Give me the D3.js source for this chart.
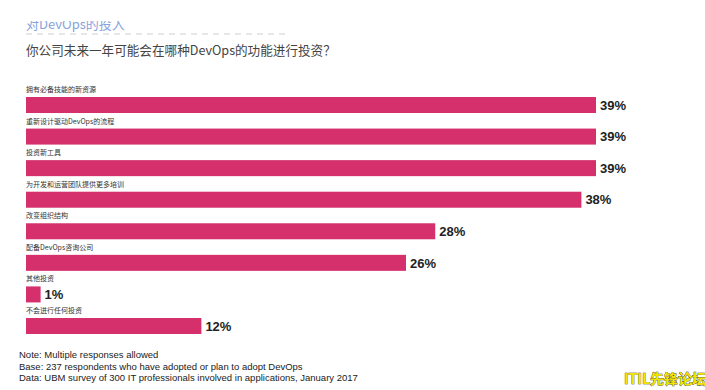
<!DOCTYPE html>
<html>
<head>
<meta charset="utf-8">
<script src="https://cdn.jsdelivr.net/npm/d3@7"></script>
<style>
  body { margin: 0; background: #fff; }
  svg { display: block; }
</style>
</head>
<body>
<div id="chart"></div>
<script>
// data
const categories = [
  "拥有必备技能的新资源",
  "重新设计驱动DevOps的流程",
  "投资新工具",
  "为开发和运营团队提供更多培训",
  "改变组织结构",
  "配备DevOps咨询公司",
  "其他投资",
  "不会进行任何投资"
];
const values = [39, 39, 39, 38, 28, 26, 1, 12];
const notes = [
  "Note: Multiple responses allowed",
  "Base: 237 respondents who have adopted or plan to adopt DevOps",
  "Data: UBM survey of 300 IT professionals involved in applications, January 2017"
];

const W = 705, H = 390;
const cjk = "'Noto Sans CJK SC', 'Noto Sans', sans-serif";
const arial = "'Liberation Sans', Arial, sans-serif";

const svg = d3.select("#chart").append("svg")
    .attr("width", W)
    .attr("height", H);

// blue section header, top clipped off
svg.append("text")
    .attr("x", 26).attr("y", 29)
    .attr("font-family", cjk).attr("font-size", 13)
    .attr("fill", "#86a3db")
    .text("对DevOps的投入");
svg.append("rect").attr("x", 0).attr("y", 0).attr("width", W).attr("height", 21).attr("fill", "#fff");
svg.append("line")
    .attr("x1", 26).attr("x2", 286).attr("y1", 34).attr("y2", 34)
    .attr("stroke", "#cfcfcf").attr("stroke-width", 1.2)
    .attr("stroke-dasharray", "6,5");

svg.append("text")
    .attr("x", 26).attr("y", 55)
    .attr("font-family", cjk).attr("font-size", 12.6)
    .attr("fill", "#444")
    .text("你公司未来一年可能会在哪种DevOps的功能进行投资？");

var x = d3.scaleLinear()
    .domain([0, 39])
    .range([26, 596]);

var y = d3.scaleBand()
    .domain(categories)
    .range([97, 334])
    .paddingInner(0.493)
    .paddingOuter(0);

var rows = svg.append("g").selectAll("g")
    .data(categories.map((c, i) => ({cat: c, val: values[i]})))
    .join("g");

rows.append("rect")
    .attr("x", x(0))
    .attr("y", d => y(d.cat))
    .attr("width", d => x(d.val) - x(0))
    .attr("height", y.bandwidth())
    .attr("fill", "#d5306b");

rows.append("text")
    .attr("x", x(0))
    .attr("y", d => y(d.cat) - 5)
    .attr("font-family", cjk).attr("font-size", 7)
    .attr("fill", "#333")
    .text(d => d.cat);

rows.append("text")
    .attr("x", d => x(d.val) + 4)
    .attr("y", d => y(d.cat) + y.bandwidth() / 2)
    .attr("dy", "0.36em")
    .attr("font-family", arial).attr("font-size", 13).attr("font-weight", "bold")
    .attr("fill", "#222")
    .text(d => d.val + "%");

svg.append("g").selectAll("text")
    .data(notes)
    .join("text")
    .attr("x", 19)
    .attr("y", (d, i) => 358 + i * 11.7)
    .attr("font-family", arial).attr("font-size", 9.5)
    .attr("fill", "#222")
    .text(d => d);

// watermark
svg.append("text")
    .attr("x", 706).attr("y", 384)
    .attr("text-anchor", "end")
    .attr("font-family", cjk).attr("font-size", 14).attr("font-weight", "bold")
    .attr("fill", "#f5e400")
    .attr("stroke", "#222").attr("stroke-width", 0.6)
    .attr("paint-order", "stroke")
    .text("ITIL先锋论坛");
</script>
</body>
</html>
